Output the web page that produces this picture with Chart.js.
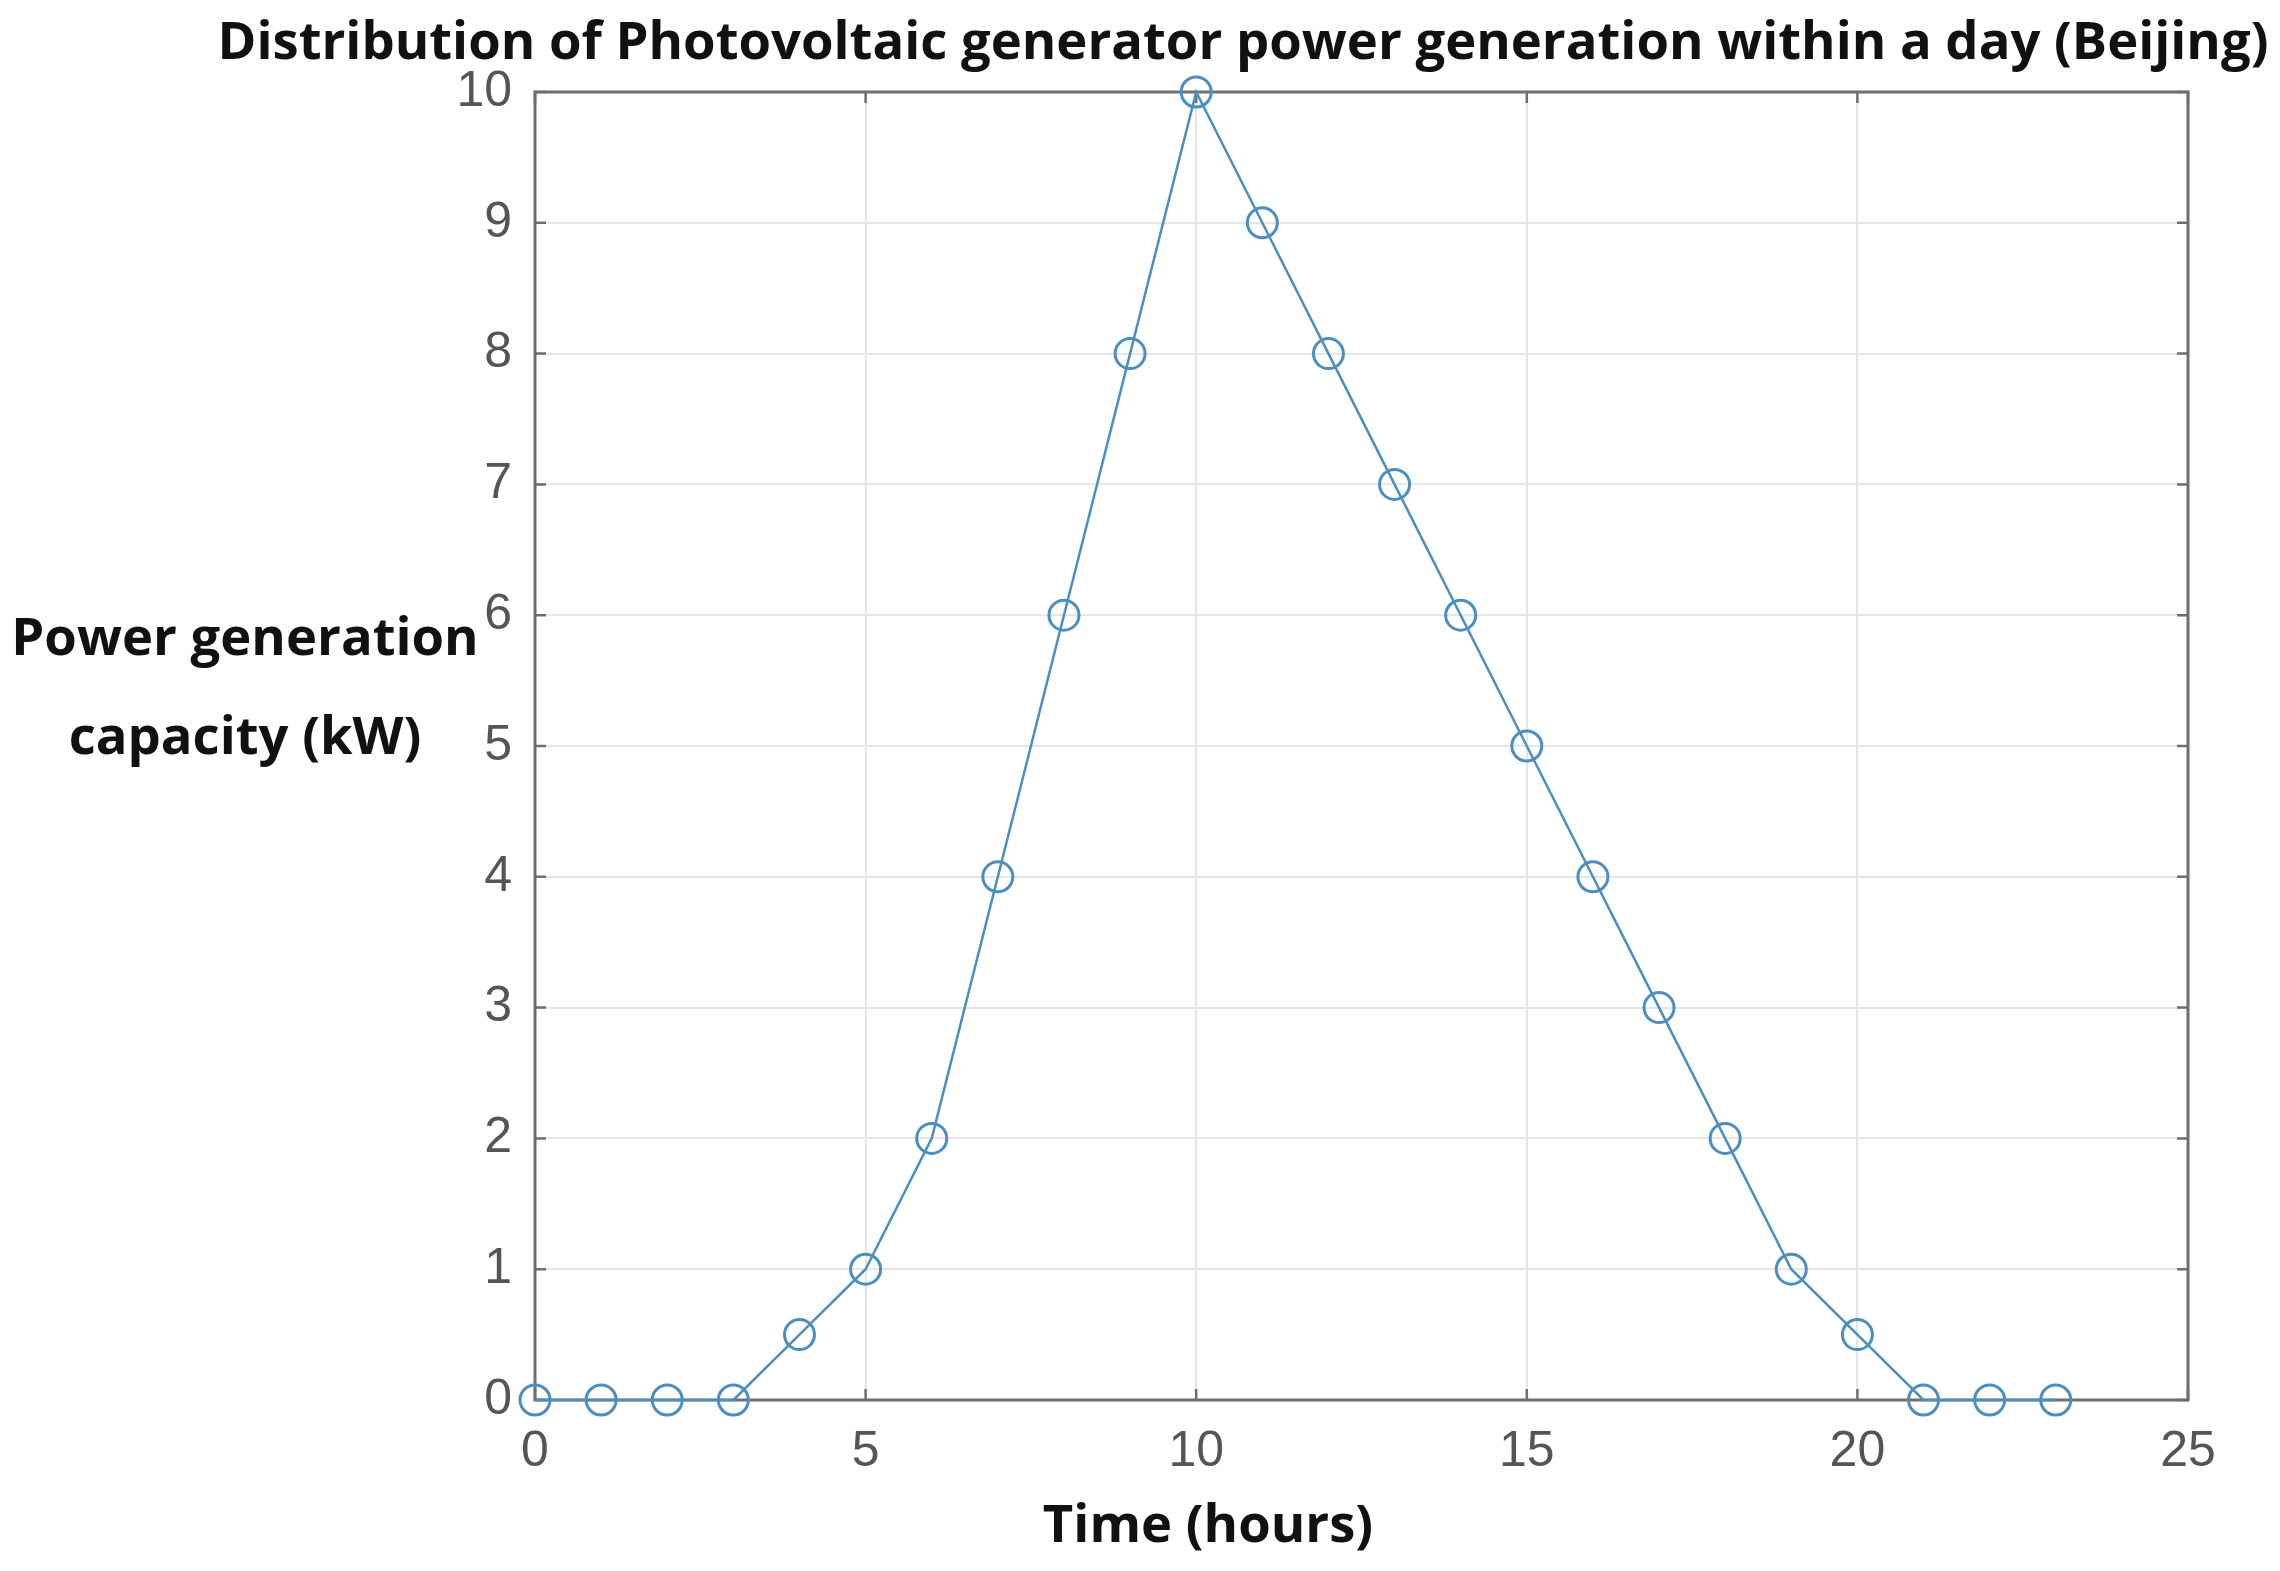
<!DOCTYPE html>
<html><head><meta charset="utf-8">
<style>html,body{margin:0;padding:0;background:#fff;overflow:hidden}#wrap{width:2280px;height:1571px;position:relative}</style>
<script src="https://cdn.jsdelivr.net/npm/chart.js@4.4.0/dist/chart.umd.min.js"></script>
</head><body><div id="wrap"><canvas id="c" width="2280" height="1571"></canvas></div>
<script>
const hours = [0,1,2,3,4,5,6,7,8,9,10,11,12,13,14,15,16,17,18,19,20,21,22,23];
const power = [0,0,0,0,0.5,1,2,4,6,8,10,9,8,7,6,5,4,3,2,1,0.5,0,0,0];
const xTicks = [0,5,10,15,20,25];
const yTicks = [0,1,2,3,4,5,6,7,8,9,10];
const titleText = 'Distribution of Photovoltaic generator power generation within a day (Beijing)';
const xLabel = 'Time (hours)';
const yLabelLines = ['Power generation','capacity (kW)'];

const lineColor = 'rgb(74,142,196)';
const tickFont = {family:'"Liberation Sans Narrow","Liberation Sans",Arial,sans-serif', size:50};
const boldFamily = '"Open Sans","Noto Sans",sans-serif';

const boxPlugin = {
  id:'box',
  beforeDatasetsDraw(chart){
    const {ctx, chartArea:a, scales:{x,y}} = chart;
    ctx.save();
    ctx.strokeStyle = '#6e6e6e';
    ctx.lineWidth = 3;
    ctx.strokeRect(a.left, a.top, a.right-a.left, a.bottom-a.top);
    ctx.lineWidth = 2.5;
    const tl = 11;
    ctx.beginPath();
    xTicks.forEach(v=>{const px=x.getPixelForValue(v);
      ctx.moveTo(px,a.bottom);ctx.lineTo(px,a.bottom-tl);
      ctx.moveTo(px,a.top);ctx.lineTo(px,a.top+tl);});
    yTicks.forEach(v=>{const py=y.getPixelForValue(v);
      ctx.moveTo(a.left,py);ctx.lineTo(a.left+tl,py);
      ctx.moveTo(a.right,py);ctx.lineTo(a.right-tl,py);});
    ctx.stroke();
    ctx.restore();
  }
};

const textPlugin = {
  id:'texts',
  afterDraw(chart){
    const ctx = chart.ctx;
    ctx.save();
    ctx.font = '700 100px ' + boldFamily;
    const w = ctx.measureText(titleText).width;
    const size = 100*2050/w;
    ctx.font = '700 ' + size.toFixed(1) + 'px ' + boldFamily;
    ctx.fillStyle = '#111';
    ctx.textAlign = 'center';
    ctx.textBaseline = 'middle';
    ctx.fillText(titleText, 1243, 44);
    ctx.fillText(yLabelLines[0], 245, 640);
    ctx.fillText(yLabelLines[1], 245, 739);
    ctx.fillText(xLabel, 1208, 1527);
    ctx.restore();
  }
};

new Chart(document.getElementById('c'), {
  type:'line',
  data:{datasets:[{
    data: hours.map((h,i)=>({x:h,y:power[i]})),
    borderColor: lineColor,
    borderWidth: 2.5,
    pointStyle:'circle',
    pointRadius: 15,
    pointBorderWidth: 3,
    pointBorderColor: lineColor,
    pointBackgroundColor: 'rgba(0,0,0,0)',
    tension: 0,
    clip: false
  }]},
  options:{
    responsive:false,
    devicePixelRatio:1,
    animation:false,
    layout:{padding:{top:92,right:92,left:0,bottom:0}},
    plugins:{legend:{display:false},tooltip:{enabled:false},title:{display:false}},
    scales:{
      x:{type:'linear',min:0,max:25,
        afterBuildTicks(s){s.ticks = xTicks.map(v=>({value:v}));},
        afterFit(s){s.height = 171;},
        grid:{color:'#e6e6e6',lineWidth:2,drawTicks:false},
        border:{display:false},
        ticks:{font:tickFont,color:'#555',padding:22,maxRotation:0,autoSkip:false}
      },
      y:{type:'linear',min:0,max:10,
        afterBuildTicks(s){s.ticks = yTicks.map(v=>({value:v}));},
        afterFit(s){s.width = 535;},
        grid:{color:'#e6e6e6',lineWidth:2,drawTicks:false},
        border:{display:false},
        ticks:{font:tickFont,color:'#555',padding:23,autoSkip:false}
      }
    }
  },
  plugins:[boxPlugin,textPlugin]
});
</script></body></html>
